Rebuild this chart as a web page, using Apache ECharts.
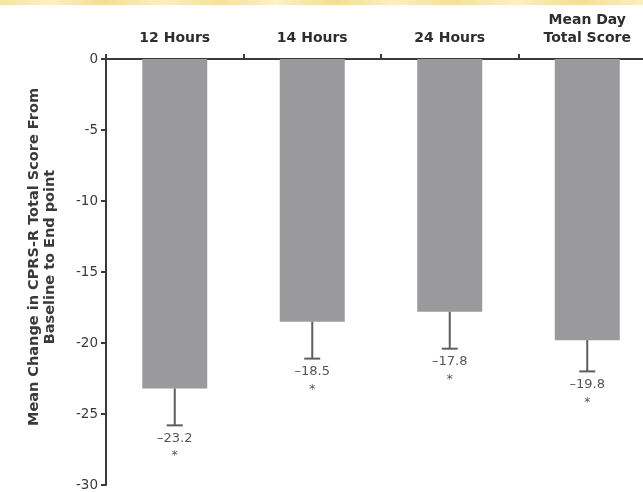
<!DOCTYPE html>
<html>
<head>
<meta charset="utf-8">
<script src="https://cdn.jsdelivr.net/npm/echarts@6/dist/echarts.min.js"></script>
<style>
html,body{margin:0;padding:0;background:#fff;}
#chart{width:643px;height:492px;}
</style>
</head>
<body>
<div id="chart"></div>
<script>
var categories = ['12 Hours', '14 Hours', '24 Hours', 'Mean Day\nTotal Score'];
var meanChange = [-23.2, -18.5, -17.8, -19.8];
var errorSize = [2.6, 2.6, 2.6, 2.2];
var valueLabels = ['\u201323.2', '\u201318.5', '\u201317.8', '\u201319.8'];
var markLabels = ['*', '*', '*', '*'];
var yAxisTitle = 'Mean Change in CPRS-R Total Score From\nBaseline to End point';

var errData = meanChange.map(function (v, i) { return [i, v, v - errorSize[i]]; });

var chart = echarts.init(document.getElementById('chart'), null, {renderer: 'canvas'});
var font = '"DejaVu Sans", Arial, sans-serif';
chart.setOption({
  animation: false,
  backgroundColor: '#ffffff',
  graphic: [{
    type: 'rect',
    shape: {x: 0, y: 0, width: 643, height: 5},
    style: {
      fill: new echarts.graphic.LinearGradient(0, 0, 1, 0, [
        {offset: 0, color: '#f8e3a8'}, {offset: 0.08, color: '#fdf0c4'},
        {offset: 0.16, color: '#f5dc9c'}, {offset: 0.25, color: '#fcefc0'},
        {offset: 0.34, color: '#f6dfa2'}, {offset: 0.43, color: '#fdf1c6'},
        {offset: 0.52, color: '#f5dc9c'}, {offset: 0.61, color: '#fcefc2'},
        {offset: 0.7, color: '#f6dea0'}, {offset: 0.8, color: '#fdf0c4'},
        {offset: 0.9, color: '#f5dc9c'}, {offset: 1, color: '#fcefc0'}
      ])
    },
    silent: true
  }, {
    type: 'text',
    x: 42,
    y: 257,
    rotation: Math.PI / 2,
    style: {
      text: yAxisTitle,
      fill: '#3a3a3a',
      font: 'bold 14.5px ' + font,
      lineHeight: 16,
      align: 'center',
      verticalAlign: 'middle'
    },
    silent: true
  }],
  grid: {left: 106, top: 59, width: 550, height: 426, containLabel: false, outerBoundsMode: 'none'},
  xAxis: {
    type: 'category',
    position: 'top',
    data: categories,
    axisLine: {lineStyle: {color: '#3a3a3a', width: 2}},
    axisTick: {show: true, inside: false, length: 5, lineStyle: {color: '#3a3a3a', width: 2}},
    axisLabel: {color: '#2e2e2e', fontFamily: font, fontWeight: 'bold', fontSize: 14, margin: 12, lineHeight: 18}
  },
  yAxis: {
    type: 'value',
    min: -30, max: 0, interval: 5,
    splitLine: {show: false},
    axisLine: {show: true, lineStyle: {color: '#3a3a3a', width: 2}},
    axisTick: {show: true, length: 5, lineStyle: {color: '#3a3a3a', width: 2}},
    axisLabel: {color: '#3a3a3a', fontFamily: font, fontSize: 13.5, margin: 8}
  },
  series: [{
    type: 'bar',
    data: meanChange,
    barWidth: 65,
    itemStyle: {color: '#9a9a9c'},
    z: 1
  }, {
    type: 'custom',
    data: errData,
    z: 3,
    renderItem: function (params, api) {
      var i = api.value(0);
      var top = api.coord([i, api.value(1)]);
      var bot = api.coord([i, api.value(2)]);
      var x = top[0];
      return {
        type: 'group',
        children: [
          {type: 'line', shape: {x1: x, y1: top[1], x2: x, y2: bot[1]}, style: {stroke: '#5e5e5e', lineWidth: 2}},
          {type: 'line', shape: {x1: x - 8, y1: bot[1], x2: x + 8, y2: bot[1]}, style: {stroke: '#5e5e5e', lineWidth: 2}},
          {type: 'text', style: {x: x, y: bot[1] + 13, text: valueLabels[params.dataIndex], fill: '#555', font: '13px ' + font, align: 'center', verticalAlign: 'middle'}},
          {type: 'text', style: {x: x, y: bot[1] + 31, text: markLabels[params.dataIndex], fill: '#555', font: '12px ' + font, align: 'center', verticalAlign: 'middle'}}
        ]
      };
    }
  }]
});
</script>
</body>
</html>
